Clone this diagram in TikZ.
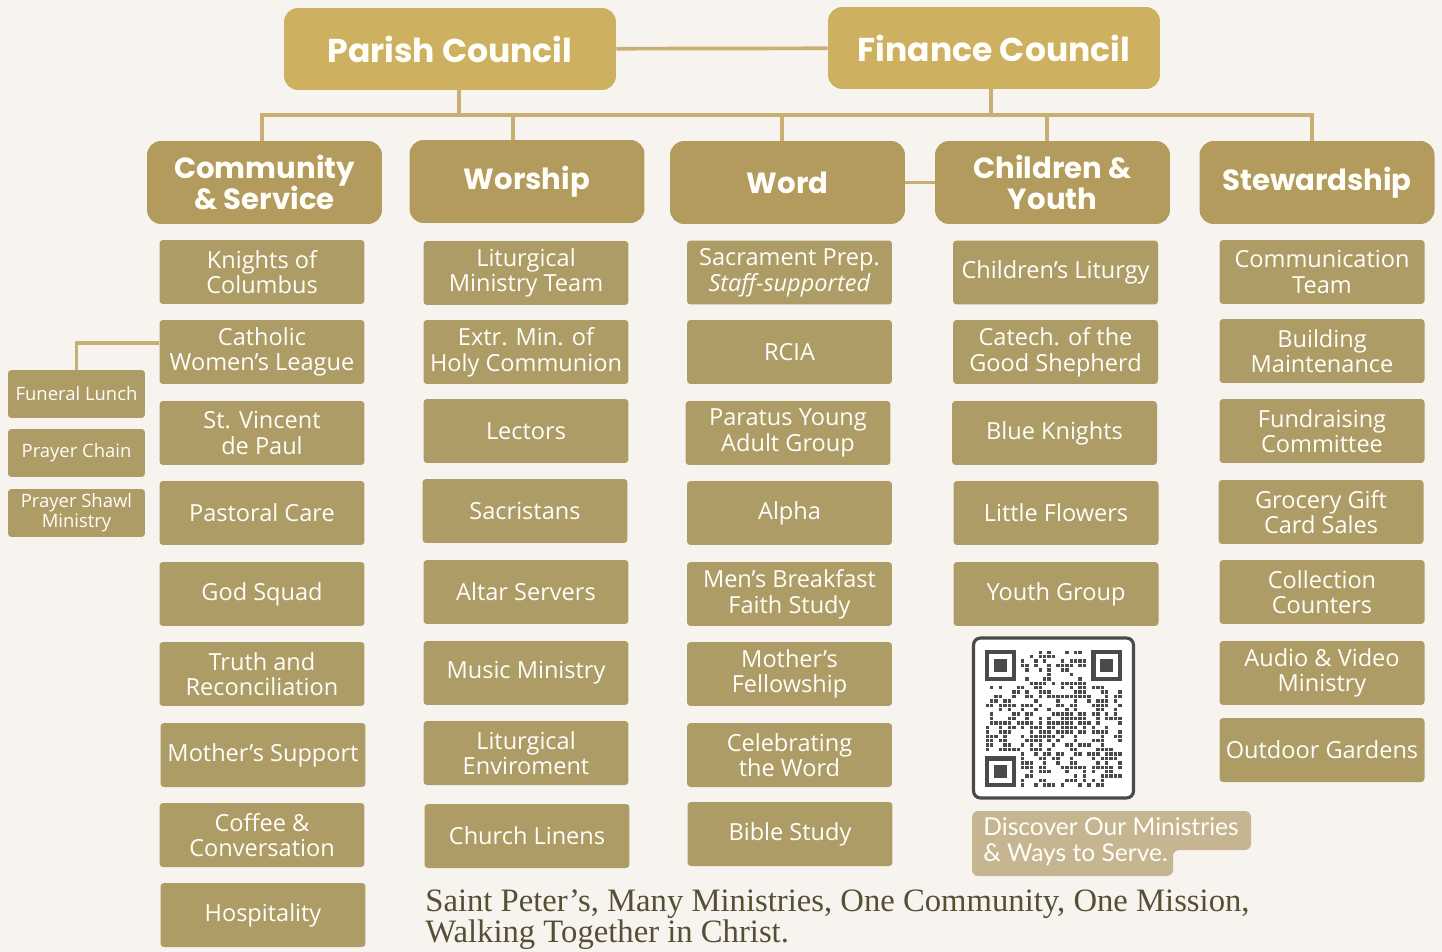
\documentclass[tikz,border=0pt]{standalone}
\usepackage{fontspec}
\setmainfont{Open Sans}
\newfontfamily\headfont{Poppins}
\newfontfamily\mottofont{Liberation Serif}
\newfontfamily\notefont{Lato}
\usetikzlibrary{calc}

\definecolor{paper}{HTML}{F7F4EF}
\definecolor{councilgold}{HTML}{CDB160}
\definecolor{deptgold}{HTML}{B39B5E}
\definecolor{ministrygold}{HTML}{AD9C66}
\definecolor{linkgold}{HTML}{C9AF74}
\definecolor{notegold}{HTML}{C5B591}
\definecolor{qrgray}{HTML}{4A4A4A}
\definecolor{mottocolor}{HTML}{574F33}
\definecolor{boxtext}{HTML}{FFFEF8}

\tikzset{
  council/.style={fill=councilgold, rounded corners=8pt, minimum width=6.64cm,
    minimum height=1.64cm, text=boxtext, font=\headfont\bfseries\fontsize{18.8}{22}\selectfont},
  dept/.style={fill=deptgold, rounded corners=8pt, minimum width=4.7cm,
    minimum height=1.66cm, text=boxtext, align=center,
    font=\headfont\bfseries\fontsize{16.6}{18}\selectfont},
  ministry/.style={fill=ministrygold, rounded corners=2pt, minimum width=4.1cm,
    minimum height=1.28cm, text=boxtext, align=center, inner sep=1pt,
    font=\fontsize{13.4}{14.6}\selectfont},
  subministry/.style={ministry, minimum width=2.74cm, minimum height=0.96cm,
    font=\fontsize{10.5}{11.5}\selectfont},
  link/.style={draw=linkgold, line width=2.1pt},
}

\begin{document}
\begin{tikzpicture}[x=0.02cm, y=-0.02cm]
    % Page
    \useasboundingbox (0,0) rectangle (1442,952);
    \fill[paper] (0,0) rectangle (1442,952);

    % Councils
    \node[council] (pc) at (450,49) {Parish Council};
    \node[council] (fc) at (994,48) {Finance Council};

    % Departments
    \node[dept] (cs) at (264.5,182.5) {Community\\\& Service};
    \node[dept] (wo) at (527,181.5) {Worship};
    \node[dept] (wd) at (787.5,182.5) {Word};
    \node[dept] (cy) at (1052.5,182.5) {Children \&\\Youth};
    \node[dept] (st) at (1317,182.5) {Stewardship};

    % Connectors
    \coordinate (busL) at (262,115);
    \coordinate (busR) at (1312,115);
    \draw[link] (pc) -- (fc);
    \draw[link] ($(cs.north)+(-2.5,0)$) |- (busR) -| ($(st.north)+(-5,0)$);
    \draw[link] ($(pc.south)+(9,0)$) -- ($(pc.south |- busL)+(9,0)$);
    \draw[link] ($(fc.south)+(-3,0)$) -- ($(fc.south |- busL)+(-3,0)$);
    \draw[link] ($(wo.north)+(-14,0)$) -- ($(wo.north |- busL)+(-14,0)$);
    \draw[link] ($(wd.north)+(-5.5,0)$) -- ($(wd.north |- busL)+(-5.5,0)$);
    \draw[link] ($(cy.north)+(-5.5,0)$) -- ($(cy.north |- busL)+(-5.5,0)$);
    \draw[link] (wd) -- (cy);

    % Community & Service
    \node[ministry] (kc) at (262,272) {Knights of\\Columbus};
    \node[ministry] (cwl) at (262,352) {Catholic\\Women’s League};
    \node[ministry] (svp) at (262,433) {St. Vincent\\de Paul};
    \node[ministry] (pcare) at (262,513) {Pastoral Care};
    \node[ministry] (gs) at (262,594) {God Squad};
    \node[ministry] (tr) at (262,674) {Truth and\\Reconciliation};
    \node[ministry] (ms) at (263,755) {Mother’s Support};
    \node[ministry] (cc) at (262,835) {Coffee \&\\Conversation};
    \node[ministry] (hos) at (263,915) {Hospitality};

    % Catholic Women's League groups
    \node[subministry] (fl) at (76.5,394) {Funeral Lunch};
    \node[subministry] (prc) at (76.5,453) {Prayer Chain};
    \node[subministry] (psm) at (76.5,513) {Prayer Shawl\\Ministry};
    \draw[link] ($(cwl.west)+(0,-9)$) -| (fl.north);

    % Worship
    \node[ministry] (lmt) at (526,273) {Liturgical\\Ministry Team};
    \node[ministry] (emhc) at (526,352) {Extr. Min. of\\Holy Communion};
    \node[ministry] (lec) at (526,431) {Lectors};
    \node[ministry] (sac) at (525,511) {Sacristans};
    \node[ministry] (als) at (526,592) {Altar Servers};
    \node[ministry] (mm) at (526,673) {Music Ministry};
    \node[ministry] (le) at (526,753) {Liturgical\\Enviroment};
    \node[ministry] (cl) at (527,836) {Church Linens};

    % Word
    \node[ministry] (spr) at (789.5,272.5) {Sacrament Prep.\\\textit{Staff-supported}};
    \node[ministry] (rcia) at (789.5,352) {RCIA};
    \node[ministry] (pya) at (788,433) {Paratus Young\\Adult Group};
    \node[ministry] (alp) at (789.5,513) {Alpha};
    \node[ministry] (mbf) at (789.5,594) {Men’s Breakfast\\Faith Study};
    \node[ministry] (mf) at (789.5,674) {Mother’s\\Fellowship};
    \node[ministry] (ctw) at (789.5,755) {Celebrating\\the Word};
    \node[ministry] (bs) at (790,834) {Bible Study};

    % Children & Youth
    \begin{scope}[every node/.append style={minimum width=4.22cm}]
    \node[ministry] (chl) at (1055.5,272.5) {Children’s Liturgy};
    \node[ministry] (cgs) at (1055.5,352) {Catech. of the\\Good Shepherd};
    \node[ministry] (bk) at (1054.5,433) {Blue Knights};
    \node[ministry] (lf) at (1056,513) {Little Flowers};
    \node[ministry] (yg) at (1056,594) {Youth Group};

    % Stewardship
    \node[ministry] (ct) at (1322,272) {Communication\\Team};
    \node[ministry] (bm) at (1322,351) {Building\\Maintenance};
    \node[ministry] (frc) at (1322,431) {Fundraising\\Committee};
    \node[ministry] (ggc) at (1321,512) {Grocery Gift\\Card Sales};
    \node[ministry] (cco) at (1322,592) {Collection\\Counters};
    \node[ministry] (avm) at (1322,673) {Audio \& Video\\Ministry};
    \node[ministry] (og) at (1322,750) {Outdoor Gardens};
    \end{scope}

    % QR code
    \node[draw=qrgray, line width=1.8pt, fill=white, rounded corners=4pt,
        minimum size=3.2cm] (qr) at (1053.5,718) {};
    \pgfmathsetseed{42}
    \foreach \i in {0,...,30}{
        \foreach \j in {0,...,30}{
            \pgfmathtruncatemacro\finder{(\i<8 && \j<8) || (\i>22 && \j<8) || (\i<8 && \j>22)}
            \pgfmathtruncatemacro\dot{rnd<0.48}
            \ifnum\finder=0 \ifnum\dot=1
                \fill[qrgray] (985.6+\i*4.42, 650.6+\j*4.42) rectangle ++(3.4,3.4);
            \fi\fi
        }
    }
    \foreach \x/\y in {985/650, 1091.1/650, 985/756.1}{
        \fill[qrgray] (\x,\y) rectangle ++(30.9,30.9);
        \fill[white] (\x+4.42,\y+4.42) rectangle ++(22.1,22.1);
        \fill[qrgray] (\x+8.84,\y+8.84) rectangle ++(13.3,13.3);
    }

    % Discover note
    \fill[notegold, rounded corners=3.5pt] (972,811) -- (1251,811) -- (1251,850)
        -- (1173,850) -- (1173,876) -- (972,876) -- cycle;
    \node[anchor=north west, align=left, inner sep=0pt, text=boxtext,
        font=\notefont\fontsize{14}{15}\selectfont] (disc) at (983,817)
        {Discover Our Ministries\\\& Ways to Serve.};

    % Motto
    \node[anchor=north west, align=left, inner sep=0pt, text=mottocolor,
        font=\mottofont\fontsize{18.6}{16}\selectfont] (motto) at (425,889)
        {Saint Peter’s, Many Ministries, One Community, One Mission,\\Walking Together in Christ.};
\end{tikzpicture}
\end{document}
